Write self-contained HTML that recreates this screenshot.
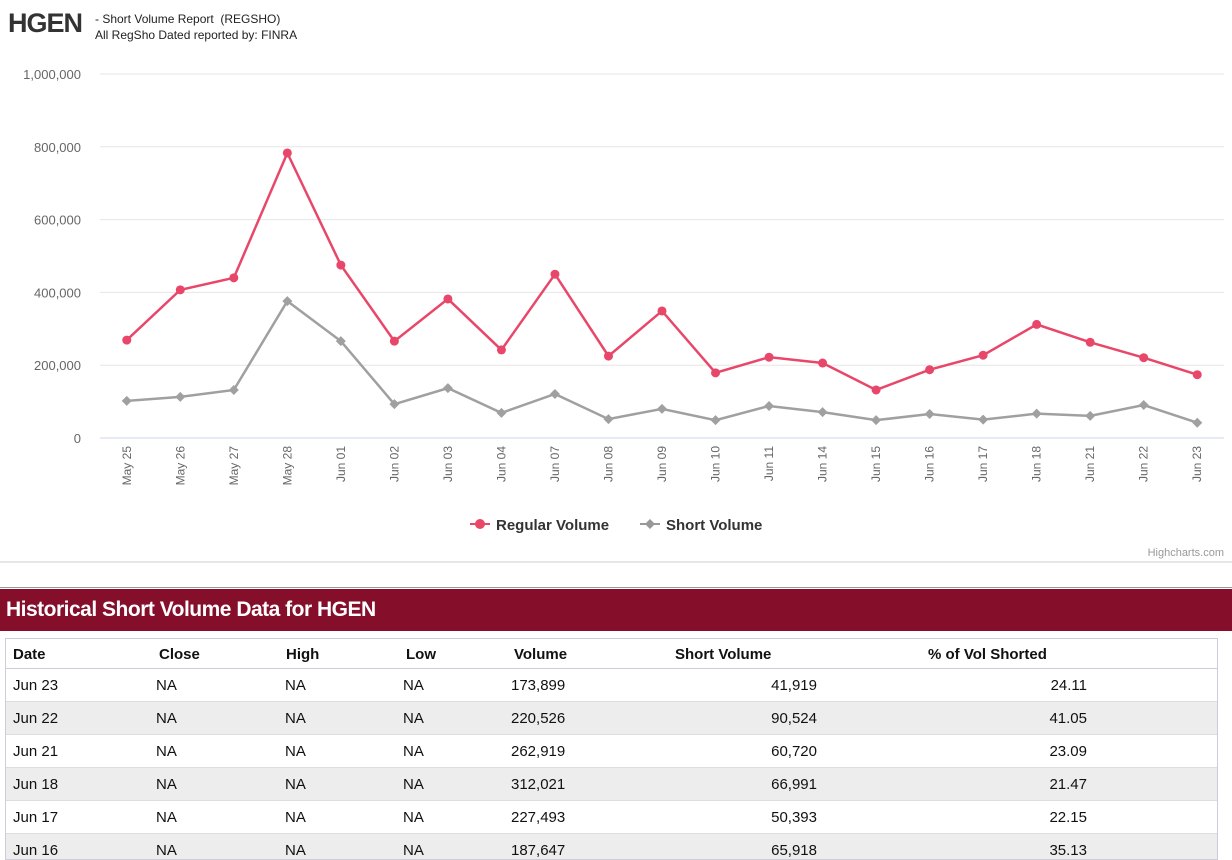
<!DOCTYPE html>
<html><head><meta charset="utf-8"><style>
body{margin:0;width:1232px;height:846px;overflow:hidden;background:#fff;font-family:"Liberation Sans",sans-serif;position:relative}
.abs{position:absolute}
.row{position:absolute;left:0;width:1211px;height:32px;border-bottom:1px solid #ddd;font-size:15px;color:#111}
.row span{position:absolute;top:8px;white-space:nowrap}
.r{text-align:right}
</style></head><body>
<div class="abs" style="left:8px;top:8px;font-size:27px;font-weight:bold;color:#333;letter-spacing:-1px">HGEN</div>
<div class="abs" style="left:95px;top:11px;font-size:12px;color:#222;line-height:16px">- Short Volume Report &nbsp;(REGSHO)<br>All RegSho Dated reported by: FINRA</div>
<svg class="abs" style="left:0;top:0" width="1232" height="570">
<g id="grid"></g><g id="lines"></g>
<g>
<g><line x1="470" y1="524" x2="490" y2="524" stroke="#e8476a" stroke-width="2"/><circle cx="480" cy="524" r="5" fill="#e8476a"/><text x="496" y="530" font-size="15" font-weight="bold" fill="#333">Regular Volume</text></g>
<g><line x1="640" y1="524" x2="660" y2="524" stroke="#999" stroke-width="2"/><path d="M650 519 L655 524 L650 529 L645 524Z" fill="#999"/><text x="666" y="530" font-size="15" font-weight="bold" fill="#333">Short Volume</text></g>
</g>
<text x="1224" y="556" text-anchor="end" font-size="11" fill="#999">Highcharts.com</text>
<line x1="0" y1="562" x2="1232" y2="562" stroke="#ccc"/>
</svg>
<div class="abs" style="left:0;top:587px;width:1232px;height:1px;background:#999"></div>
<div class="abs" style="left:0;top:589px;width:1232px;height:42px;background:#850e2b;color:#fff;font-size:21px;font-weight:bold;line-height:42px;padding-left:6px;box-sizing:border-box;letter-spacing:-0.5px">Historical Short Volume Data for HGEN</div>
<div class="abs" id="tbl" style="left:5px;top:638px;width:1211px;height:220px;border:1px solid #ccd;overflow:hidden">
<div class="row" style="top:0;height:29px;font-weight:bold;border-bottom:1px solid #ccd">
<span style="left:7px;top:7px">Date</span><span style="left:153px;top:7px">Close</span><span style="left:280px;top:7px">High</span><span style="left:400px;top:7px">Low</span><span style="left:508px;top:7px">Volume</span><span style="left:669px;top:7px">Short Volume</span><span style="left:922px;top:7px">% of Vol Shorted</span>
</div>
</div>
<script>
const categories=["May 25","May 26","May 27","May 28","Jun 01","Jun 02","Jun 03","Jun 04","Jun 07","Jun 08","Jun 09","Jun 10","Jun 11","Jun 14","Jun 15","Jun 16","Jun 17","Jun 18","Jun 21","Jun 22","Jun 23"];
const regularVolume=[269000,407000,440000,783000,475000,266000,382000,242000,450000,225000,349000,179000,222000,206000,132000,187647,227493,312021,262919,220526,173899];
const shortVolume=[102000,113000,132000,376000,266000,93000,137000,69000,121000,52000,80000,49000,88000,71000,49000,65918,50393,66991,60720,90524,41919];
const yTicks=[0,200000,400000,600000,800000,1000000];
const tableDates=["Jun 23","Jun 22","Jun 21","Jun 18","Jun 17","Jun 16"];
const tableVol=["173,899","220,526","262,919","312,021","227,493","187,647"];
const tableShort=["41,919","90,524","60,720","66,991","50,393","65,918"];
const tablePct=["24.11","41.05","23.09","21.47","22.15","35.13"];
const NS="http://www.w3.org/2000/svg";
const L=100,R=1224,T=74,B=438;
const cw=(R-L)/categories.length;
const xs=i=>L+cw*(i+0.5);
const ys=v=>B-(v/1000000)*(B-T);
function mk(t,a,p){const e=document.createElementNS(NS,t);for(const k in a)e.setAttribute(k,a[k]);p.appendChild(e);return e;}
const g=document.getElementById('grid');
yTicks.forEach(v=>{
 const ln=mk('line',{x1:L,x2:R,y1:ys(v),y2:ys(v),stroke:v?'#e6e6e6':'#ccd6eb'},g);
 
 
 const t=mk('text',{x:81,y:ys(v)+5,'text-anchor':'end','font-size':13,fill:'#666'},g);
 
 
 t.textContent=v.toLocaleString('en-US');
});
categories.forEach((c,i)=>{
 const t=mk('text',{transform:`translate(${xs(i)+4},446) rotate(-90)`,'text-anchor':'end','font-size':12,fill:'#666'},g);
 
 
 t.textContent=c;
});
const lg=document.getElementById('lines');
function series(vals,col,name,diamond){
 const p=mk('polyline',{points:vals.map((v,i)=>xs(i)+','+ys(v)).join(' '),fill:'none',stroke:col,'stroke-width':2.5},lg);
 
 
 vals.forEach((v,i)=>{
  const x=xs(i),y=ys(v);
  const m=diamond?mk('path',{d:`M${x} ${y-5}L${x+5} ${y}L${x} ${y+5}L${x-5} ${y}Z`,fill:col},lg):mk('circle',{cx:x,cy:y,r:4.5,fill:col},lg);
  
  
 });
}
series(shortVolume,'#a0a0a0','short-volume',true);
series(regularVolume,'#e8476a','regular-volume',false);
const tb=document.getElementById('tbl');
tableDates.forEach((d,i)=>{
 const tr=document.createElement('div');
 tr.className='row';
 
 
 tr.style.top=(30+i*33)+'px';
 if(i%2)tr.style.background='#ededed';
 tr.innerHTML=`<span style="left:7px">${d}</span><span style="left:150px">NA</span><span style="left:279px">NA</span><span style="left:397px">NA</span><span style="left:505px">${tableVol[i]}</span><span class="r" style="right:400px">${tableShort[i]}</span><span class="r" style="right:130px">${tablePct[i]}</span>`;
 tb.appendChild(tr);
});
</script>
</body></html>
